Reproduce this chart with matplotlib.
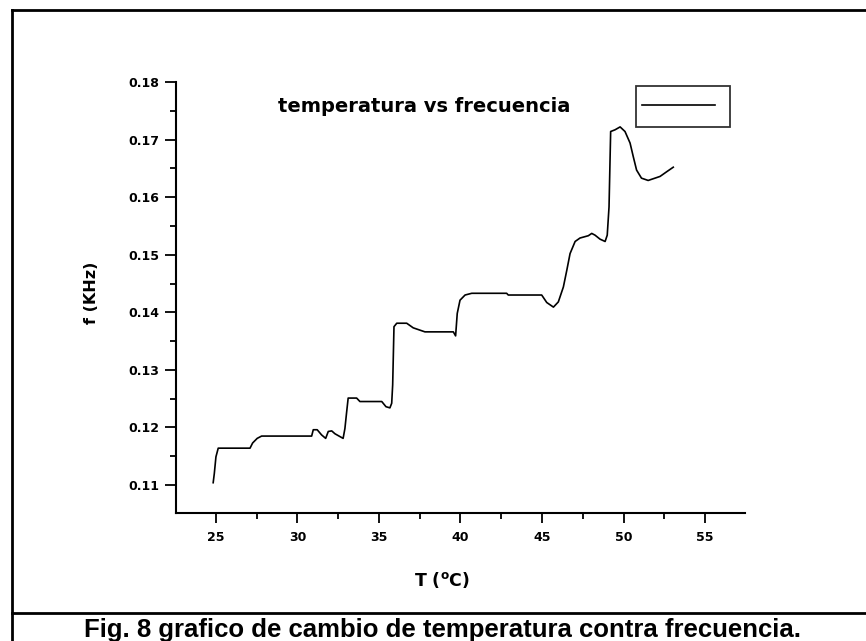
import matplotlib
matplotlib.use("Agg")
import matplotlib.pyplot as plt
from matplotlib.lines import Line2D

# Data
temp_c = [24.83, 24.90, 25.00, 25.14, 27.09, 27.25, 27.53, 27.80, 30.87, 30.97,
          31.21, 31.48, 31.73, 31.89, 32.10, 32.30, 32.80, 32.91, 33.01, 33.11,
          33.63, 33.83, 35.17, 35.43, 35.67, 35.78, 35.84, 35.92, 36.09, 36.70,
          37.10, 37.82, 39.56, 39.70, 39.80, 39.97, 40.28, 40.69, 42.83, 42.93,
          44.98, 45.29, 45.70, 46.00, 46.31, 46.52, 46.72, 47.03, 47.33, 47.84,
          48.05, 48.25, 48.56, 48.87, 49.00, 49.11, 49.21, 49.48, 49.79, 50.09,
          50.40, 50.60, 50.80, 51.10, 51.51, 51.93, 52.24, 52.64, 53.05]
freq_khz = [0.1104, 0.1120, 0.1149, 0.1164, 0.1164, 0.1173, 0.1181, 0.1185, 0.1185, 0.1196,
            0.1196, 0.1187, 0.1181, 0.1193, 0.1194, 0.1189, 0.1181, 0.1198, 0.1225, 0.1251,
            0.1251, 0.1245, 0.1245, 0.1236, 0.1234, 0.1242, 0.1274, 0.1375, 0.1381, 0.1381,
            0.1373, 0.1366, 0.1366, 0.1359, 0.1398, 0.1421, 0.1430, 0.1433, 0.1433, 0.1430,
            0.1430, 0.1417, 0.1409, 0.1418, 0.1444, 0.1473, 0.1502, 0.1523, 0.1529, 0.1533,
            0.1537, 0.1534, 0.1527, 0.1523, 0.1534, 0.1583, 0.1714, 0.1717, 0.1722, 0.1714,
            0.1694, 0.1670, 0.1647, 0.1633, 0.1629, 0.1633, 0.1636, 0.1644, 0.1652]

x_ticks = [25, 30, 35, 40, 45, 50, 55]
y_ticks = [0.11, 0.12, 0.13, 0.14, 0.15, 0.16, 0.17, 0.18]
y_tick_labels = ["0.11", "0.12", "0.13", "0.14", "0.15", "0.16", "0.17", "0.18"]

title_text = "temperatura vs frecuencia"
x_label = r"T ($^{\mathbf{o}}$C)"
y_label = "f (KHz)"
caption = "Fig. 8 grafico de cambio de temperatura contra frecuencia."

W, H = 866, 641
fig = plt.figure(figsize=(W / 100, H / 100), dpi=100)

def fx(px):
    return px / W

def fy(py):
    return 1 - py / H

ax = fig.add_axes([fx(176), fy(512.7), fx(745) - fx(176), fy(82) - fy(512.7)])
ax.plot(temp_c, freq_khz, color="black", linewidth=1.2, label=" ")
ax.set_xlim(22.55, 57.45)
ax.set_ylim(0.10519, 0.18)

for s in ["top", "right"]:
    ax.spines[s].set_visible(False)
for s in ["left", "bottom"]:
    ax.spines[s].set_linewidth(1.5)

ax.set_xticks(x_ticks)
ax.set_xticklabels([str(v) for v in x_ticks])
ax.set_xticks([22.5 + 2.5 * i for i in range(1, 14) if (22.5 + 2.5 * i) % 5 != 0], minor=True)
ax.set_yticks(y_ticks)
ax.set_yticklabels(y_tick_labels)
ax.set_yticks([0.115, 0.125, 0.135, 0.145, 0.155, 0.165, 0.175], minor=True)
ax.tick_params(which="major", direction="out", length=7, width=1.3, labelsize=9)
ax.tick_params(which="minor", direction="out", length=4, width=1.3)
ax.tick_params(axis="y", which="major", length=8, pad=4)
ax.tick_params(axis="x", which="major", pad=6)
for lbl in ax.get_xticklabels() + ax.get_yticklabels():
    lbl.set_fontweight("bold")

leg = ax.legend(loc="upper left", bbox_to_anchor=(fx(636), fy(86)), bbox_transform=fig.transFigure,
                frameon=True, fancybox=False, edgecolor="black", handlelength=2.6,
                handletextpad=0.0, borderpad=0.23, fontsize=20, borderaxespad=0)
leg.get_frame().set_linewidth(1.3)

fig.text(fx(278), fy(107), title_text, fontsize=14, fontweight="bold", ha="left", va="center")
fig.text(fx(442), fy(580), x_label, fontsize=12.5, fontweight="bold", ha="center", va="center")
fig.text(fx(92), fy(293), y_label, fontsize=11.5, fontweight="bold", ha="center", va="center",
         rotation=90)

# frame lines around the figure and caption row
fig.add_artist(Line2D([fx(11.5), fx(11.5)], [fy(10), 0], transform=fig.transFigure,
                      color="black", linewidth=2))
fig.add_artist(Line2D([fx(11.5), 1], [fy(10), fy(10)], transform=fig.transFigure,
                      color="black", linewidth=2))
fig.add_artist(Line2D([fx(11.5), 1], [fy(613), fy(613)], transform=fig.transFigure,
                      color="black", linewidth=2))

fig.text(fx(442), fy(637), caption, fontsize=18.5, fontweight="bold",
         family="Liberation Sans", ha="center", va="baseline")

fig.savefig("out.png", dpi=100)
